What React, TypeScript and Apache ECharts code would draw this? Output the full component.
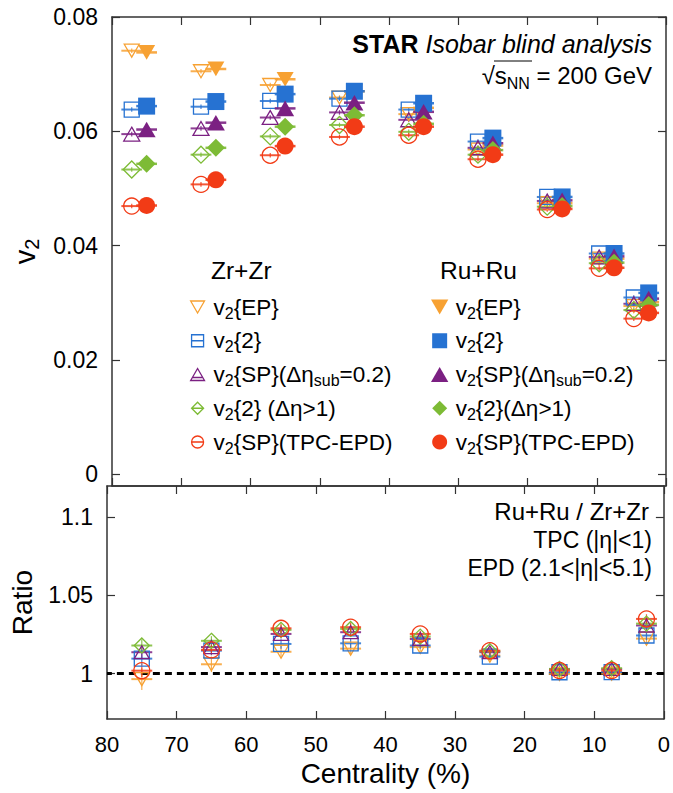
import React, { useEffect, useRef } from 'react';
import * as echarts from 'echarts';

// ---------------- data ----------------
const centralities = [75, 65, 55, 45, 35, 25, 15, 7.5, 2.5];
const v2Ticks = [0, 0.02, 0.04, 0.06, 0.08];
const ratioTicks = [1, 1.05, 1.1];

// Zr+Zr (open markers)
const zrEP = [0.0741, 0.0705, 0.0681, 0.0659, 0.0630, 0.0568, 0.0474, 0.0377, 0.0294];
const zr2 = [0.0638, 0.0643, 0.0653, 0.0657, 0.0638, 0.0582, 0.0485, 0.0386, 0.0309];
const zrSP = [0.0595, 0.0605, 0.0624, 0.0633, 0.0620, 0.0571, 0.0478, 0.0380, 0.0298];
const zr2Gap = [0.0533, 0.0559, 0.0591, 0.0611, 0.0599, 0.0559, 0.0468, 0.0369, 0.0287];
const zrTPCEPD = [0.0469, 0.0507, 0.0558, 0.0590, 0.0593, 0.0551, 0.0463, 0.0360, 0.0272];

// Ru+Ru (filled markers)
const ruEP = [0.0738, 0.0709, 0.0691, 0.0670, 0.0641, 0.0575, 0.0474, 0.0377, 0.0301];
const ru2 = [0.0644, 0.0652, 0.0665, 0.0670, 0.0649, 0.0588, 0.0485, 0.0386, 0.0317];
const ruSP = [0.0603, 0.0615, 0.0640, 0.0650, 0.0634, 0.0579, 0.0479, 0.0381, 0.0307];
const ru2Gap = [0.0543, 0.0571, 0.0608, 0.0628, 0.0613, 0.0567, 0.0469, 0.0370, 0.0296];
const ruTPCEPD = [0.0470, 0.0515, 0.0574, 0.0608, 0.0608, 0.0559, 0.0464, 0.0361, 0.0282];

// Ru+Ru / Zr+Zr ratios
const ratioEP = [0.9965, 1.006, 1.014, 1.016, 1.017, 1.0115, 0.9998, 1.0, 1.0224];
const ratio2 = [1.0096, 1.0147, 1.019, 1.0194, 1.018, 1.0109, 1.0009, 1.001, 1.0244];
const ratioSP = [1.0137, 1.017, 1.0254, 1.0265, 1.0222, 1.0137, 1.003, 1.003, 1.0308];
const ratio2Gap = [1.018, 1.021, 1.028, 1.0286, 1.0237, 1.0143, 1.003, 1.0035, 1.032];
const ratioTPCEPD = [1.0019, 1.0152, 1.029, 1.0297, 1.0254, 1.0147, 1.002, 1.002, 1.035];

// ratio uncertainties
const ratioErrEP = [0.007, 0.005, 0.004, 0.004, 0.003, 0.003, 0.003, 0.003, 0.004];
const ratioErrOther = [0.004, 0.003, 0.003, 0.003, 0.002, 0.002, 0.002, 0.002, 0.003];
const v2StatErr = 0.0004;

// ---------------- styling ----------------
const FONT = "'Liberation Sans', Arial, Helvetica, sans-serif";
const HALF = 1.5; // half width of the horizontal bars (centrality units)
const ZR_SHIFT = 2.15; // Zr points drawn slightly to the left

const P_TRI_DOWN = 'path://M0,0L20,0L10,17.32Z';
const P_TRI_UP = 'path://M10,0L20,17.32L0,17.32Z';
const P_SQUARE = 'path://M0,0L20,0L20,20L0,20Z';
const P_DIAMOND = 'path://M10,0L20,10L10,20L0,10Z';
const P_TRI_UP_LINE = 'path://M10,0L20,17.32L0,17.32Z M3,13L17,13';
const P_SQUARE_LINE = 'path://M0,0L20,0L20,20L0,20Z M0,10L20,10';
const P_DIAMOND_LINE = 'path://M10,0L20,10L10,20L0,10Z M0,10L20,10';
const P_CIRCLE_LINE = 'path://M0,10A10,10,0,1,1,20,10A10,10,0,1,1,0,10Z M0,10L20,10';

const methods = [
  {
    key: 'EP', color: '#F7A132', zr: zrEP, ru: ruEP, ratio: ratioEP, rerr: ratioErrEP,
    symbol: P_TRI_DOWN, legendOpen: P_TRI_DOWN, sizeOpen: 15, sizeFilled: 17,
    zrLabel: 'v{s|2}{EP}', ruLabel: 'v{s|2}{EP}',
  },
  {
    key: '2', color: '#2672D2', zr: zr2, ru: ru2, ratio: ratio2, rerr: ratioErrOther,
    symbol: P_SQUARE, legendOpen: P_SQUARE_LINE, sizeOpen: 15, sizeFilled: 17,
    zrLabel: 'v{s|2}{2}', ruLabel: 'v{s|2}{2}',
  },
  {
    key: 'SP', color: '#7B2082', zr: zrSP, ru: ruSP, ratio: ratioSP, rerr: ratioErrOther,
    symbol: P_TRI_UP, legendOpen: P_TRI_UP_LINE, sizeOpen: 16, sizeFilled: 18,
    zrLabel: 'v{s|2}{SP}(Δη{s|sub}=0.2)', ruLabel: 'v{s|2}{SP}(Δη{s|sub}=0.2)',
  },
  {
    key: 'Gap', color: '#7DBB35', zr: zr2Gap, ru: ru2Gap, ratio: ratio2Gap, rerr: ratioErrOther,
    symbol: P_DIAMOND, legendOpen: P_DIAMOND_LINE, sizeOpen: 17, sizeFilled: 18,
    zrLabel: 'v{s|2}{2} (Δη>1)', ruLabel: 'v{s|2}{2}(Δη>1)',
  },
  {
    key: 'TE', color: '#F23B16', zr: zrTPCEPD, ru: ruTPCEPD, ratio: ratioTPCEPD, rerr: ratioErrOther,
    symbol: 'circle', legendOpen: P_CIRCLE_LINE, sizeOpen: 16, sizeFilled: 17,
    zrLabel: 'v{s|2}{SP}(TPC-EPD)', ruLabel: 'v{s|2}{SP}(TPC-EPD)',
  },
];

function errorSeries(data: number[][], color: string, axisIdx: number, z: number, lineW: number, opacity: number) {
  return {
    type: 'custom',
    xAxisIndex: axisIdx,
    yAxisIndex: axisIdx,
    z,
    silent: true,
    data,
    encode: { x: 0, y: 1 },
    renderItem: (_params: any, api: any) => {
      const x = api.value(0) as number;
      const y = api.value(1) as number;
      const e = api.value(2) as number;
      const a = api.coord([x - HALF, y]);
      const b = api.coord([x + HALF, y]);
      const c = api.coord([x, y - e]);
      const d = api.coord([x, y + e]);
      return {
        type: 'group',
        children: [
          { type: 'line', shape: { x1: a[0], y1: a[1], x2: b[0], y2: b[1] }, style: { stroke: color, lineWidth: lineW, opacity } },
          { type: 'line', shape: { x1: c[0], y1: c[1], x2: d[0], y2: d[1] }, style: { stroke: color, lineWidth: 1.2, opacity } },
        ],
      };
    },
  };
}

const AXIS_COLOR = '#333';
const axisLine = { show: true, onZero: false, lineStyle: { color: AXIS_COLOR, width: 1.5 } };
const tickBase = { show: true, inside: true, length: 8, lineStyle: { color: AXIS_COLOR, width: 1.2 } };

export default function App() {
  const ref = useRef<HTMLDivElement>(null);

  useEffect(() => {
    if (!ref.current) return;
    const chart = echarts.init(ref.current, undefined, { renderer: 'svg' });

    const series: any[] = [];
    methods.forEach((m, i) => {
      // top panel: Zr+Zr open
      series.push({
        name: 'Zr ' + m.key,
        type: 'scatter',
        xAxisIndex: 0,
        yAxisIndex: 0,
        z: 4 + i * 0.01,
        symbol: m.symbol,
        symbolSize: m.sizeOpen,
        symbolKeepAspect: true,
        itemStyle: { color: 'rgba(255,255,255,0)', borderColor: m.color, borderWidth: 1.3, opacity: 1 },
        data: centralities.map((c, k) => [c + ZR_SHIFT, m.zr[k]]),
      });
      series.push(errorSeries(centralities.map((c, k) => [c + ZR_SHIFT, m.zr[k], v2StatErr]), m.color, 0, 3, 2, 0.85));
      // top panel: Ru+Ru filled
      series.push({
        name: 'Ru ' + m.key,
        type: 'scatter',
        xAxisIndex: 0,
        yAxisIndex: 0,
        z: 6 + i * 0.01,
        symbol: m.symbol,
        symbolSize: m.sizeFilled,
        symbolKeepAspect: true,
        itemStyle: { color: m.color, borderWidth: 0, opacity: 1 },
        data: centralities.map((c, k) => [c, m.ru[k]]),
      });
      series.push(errorSeries(centralities.map((c, k) => [c, m.ru[k], v2StatErr]), m.color, 0, 5, 2.5, 0.9));
      // bottom panel: ratio
      const rs: any = {
        name: 'Ratio ' + m.key,
        type: 'scatter',
        xAxisIndex: 2,
        yAxisIndex: 2,
        z: 4 + i * 0.01,
        symbol: m.symbol,
        symbolSize: m.key === 'TE' ? 16 : 15,
        symbolKeepAspect: true,
        itemStyle: { color: 'rgba(255,255,255,0)', borderColor: m.color, borderWidth: 1.3, opacity: 1 },
        data: centralities.map((c, k) => [c, m.ratio[k]]),
      };
      if (i === 0) {
        rs.markLine = {
          silent: true,
          symbol: 'none',
          label: { show: false },
          lineStyle: { color: '#000', type: [7, 5], width: 3 },
          data: [{ yAxis: 1 }],
          z: 2,
        };
      }
      series.push(rs);
      series.push(errorSeries(centralities.map((c, k) => [c, m.ratio[k], m.rerr[k]]), m.color, 2, 3, 2, 0.85));
    });

    const legendText = {
      color: '#000',
      fontFamily: FONT,
      fontSize: 22.5,
      lineHeight: 28,
      rich: { s: { fontFamily: FONT, fontSize: 16, lineHeight: 15, verticalAlign: 'bottom', color: '#000' } },
    };
    const zrLabelMap: Record<string, string> = {};
    const ruLabelMap: Record<string, string> = {};
    methods.forEach((m) => {
      zrLabelMap['Zr ' + m.key] = m.zrLabel;
      ruLabelMap['Ru ' + m.key] = m.ruLabel;
    });

    const option: any = {
      animation: false,
      backgroundColor: '#fff',
      textStyle: { fontFamily: FONT },
      grid: [
        { left: 107, top: 17, width: 559, height: 469, containLabel: false },
        { left: 107, top: 486, width: 559, height: 233, containLabel: false },
      ],
      xAxis: [
        {
          type: 'value', gridIndex: 0, min: 0, max: 80, interval: 10, inverse: true, position: 'bottom',
          axisLine, axisTick: tickBase, axisLabel: { show: false }, splitLine: { show: false },
        },
        {
          type: 'value', gridIndex: 0, min: 0, max: 80, interval: 10, inverse: true, position: 'top',
          axisLine, axisTick: tickBase, axisLabel: { show: false }, splitLine: { show: false },
        },
        {
          type: 'value', gridIndex: 1, min: 0, max: 80, interval: 10, inverse: true, position: 'bottom',
          axisLine, axisTick: tickBase, splitLine: { show: false },
          axisLabel: { show: true, fontSize: 22, color: '#000', fontFamily: FONT, margin: 14, showMinLabel: true, showMaxLabel: true },
          name: 'Centrality (%)', nameLocation: 'middle', nameGap: 40,
          nameTextStyle: { fontSize: 28, color: '#000', fontFamily: FONT },
        },
        {
          type: 'value', gridIndex: 1, min: 0, max: 80, interval: 10, inverse: true, position: 'top',
          axisLine, axisTick: tickBase, axisLabel: { show: false }, splitLine: { show: false },
        },
      ],
      yAxis: [
        {
          type: 'value', gridIndex: 0, min: -0.0021, max: 0.08, position: 'left',
          axisLine, axisTick: { ...tickBase, customValues: v2Ticks }, splitLine: { show: false },
          axisLabel: {
            show: true, customValues: v2Ticks, fontSize: 23, color: '#000', fontFamily: FONT, margin: 14,
            formatter: (v: number) => (v === 0 ? '0' : v.toFixed(2)),
          },
          name: 'v{s|2}', nameLocation: 'middle', nameGap: 70,
          nameTextStyle: {
            fontSize: 29, color: '#000', fontFamily: FONT, lineHeight: 34,
            rich: { s: { fontSize: 20, lineHeight: 19, verticalAlign: 'bottom', fontFamily: FONT, color: '#000' } },
          },
        },
        {
          type: 'value', gridIndex: 0, min: -0.0021, max: 0.08, position: 'right',
          axisLine, axisTick: { ...tickBase, customValues: v2Ticks }, splitLine: { show: false },
          axisLabel: { show: false },
        },
        {
          type: 'value', gridIndex: 1, min: 0.971, max: 1.12, position: 'left',
          axisLine, axisTick: { ...tickBase, customValues: ratioTicks }, splitLine: { show: false },
          axisLabel: {
            show: true, customValues: ratioTicks, fontSize: 23, color: '#000', fontFamily: FONT, margin: 14,
            formatter: (v: number) => String(v),
          },
          name: 'Ratio', nameLocation: 'middle', nameGap: 71,
          nameTextStyle: { fontSize: 28, color: '#000', fontFamily: FONT },
        },
        {
          type: 'value', gridIndex: 1, min: 0.971, max: 1.12, position: 'right',
          axisLine, axisTick: { ...tickBase, customValues: ratioTicks }, splitLine: { show: false },
          axisLabel: { show: false },
        },
      ],
      legend: [
        {
          orient: 'vertical', left: 190, top: 293, padding: 0, itemGap: 5.75,
          itemWidth: 22, itemHeight: 12, selectedMode: false,
          textStyle: legendText,
          formatter: (name: string) => zrLabelMap[name] || name,
          data: methods.map((m) => ({
            name: 'Zr ' + m.key,
            icon: m.legendOpen,
            itemStyle: { color: 'rgba(255,255,255,0)', borderColor: m.color, borderWidth: 1.3 },
          })),
        },
        {
          orient: 'vertical', left: 431, top: 293, padding: 0, itemGap: 5.75,
          itemWidth: 22, itemHeight: 15, selectedMode: false,
          textStyle: legendText,
          formatter: (name: string) => ruLabelMap[name] || name,
          data: methods.map((m) => ({
            name: 'Ru ' + m.key,
            icon: m.symbol === 'circle' ? 'circle' : m.symbol,
            itemStyle: { color: m.color, borderWidth: 0 },
          })),
        },
      ],
      graphic: [
        {
          type: 'text', x: 652, y: 44, silent: true,
          style: {
            text: '{b|STAR} {i|Isobar blind analysis}', align: 'right', verticalAlign: 'middle',
            fill: '#000', fontFamily: FONT, fontSize: 25,
            rich: {
              b: { fontWeight: 'bold', fontSize: 25, fontFamily: FONT, fill: '#000' },
              i: { fontStyle: 'italic', fontSize: 25, fontFamily: FONT, fill: '#000' },
            },
          },
        },
        {
          type: 'text', x: 652, y: 75, silent: true,
          style: {
            text: '√s{n|NN} = 200 GeV', align: 'right', verticalAlign: 'middle',
            fill: '#000', fontFamily: FONT, fontSize: 24, lineHeight: 32,
            rich: { n: { fontSize: 16, lineHeight: 16, verticalAlign: 'bottom', fontFamily: FONT, fill: '#000' } },
          },
        },
        {
          type: 'line', silent: true,
          shape: { x1: 494, y1: 61, x2: 532, y2: 61 },
          style: { stroke: '#000', lineWidth: 1 },
        },
        {
          type: 'text', x: 211, y: 270, silent: true,
          style: { text: 'Zr+Zr', fill: '#000', fontFamily: FONT, fontSize: 24.5, verticalAlign: 'middle' },
        },
        {
          type: 'text', x: 440, y: 270, silent: true,
          style: { text: 'Ru+Ru', fill: '#000', fontFamily: FONT, fontSize: 24.5, verticalAlign: 'middle' },
        },
        {
          type: 'text', x: 649, y: 511, silent: true,
          style: { text: 'Ru+Ru / Zr+Zr', fill: '#000', fontFamily: FONT, fontSize: 24, align: 'right', verticalAlign: 'middle' },
        },
        {
          type: 'text', x: 652, y: 540, silent: true,
          style: { text: 'TPC (|η|<1)', fill: '#000', fontFamily: FONT, fontSize: 23, align: 'right', verticalAlign: 'middle' },
        },
        {
          type: 'text', x: 652, y: 568, silent: true,
          style: { text: 'EPD (2.1<|η|<5.1)', fill: '#000', fontFamily: FONT, fontSize: 23, align: 'right', verticalAlign: 'middle' },
        },
      ],
      series,
    };

    chart.setOption(option);
    return () => {
      chart.dispose();
    };
  }, []);

  return (
    <div
      ref={ref}
      style={{ position: 'absolute', left: 0, top: 0, width: 673, height: 793, background: '#fff' }}
    />
  );
}
